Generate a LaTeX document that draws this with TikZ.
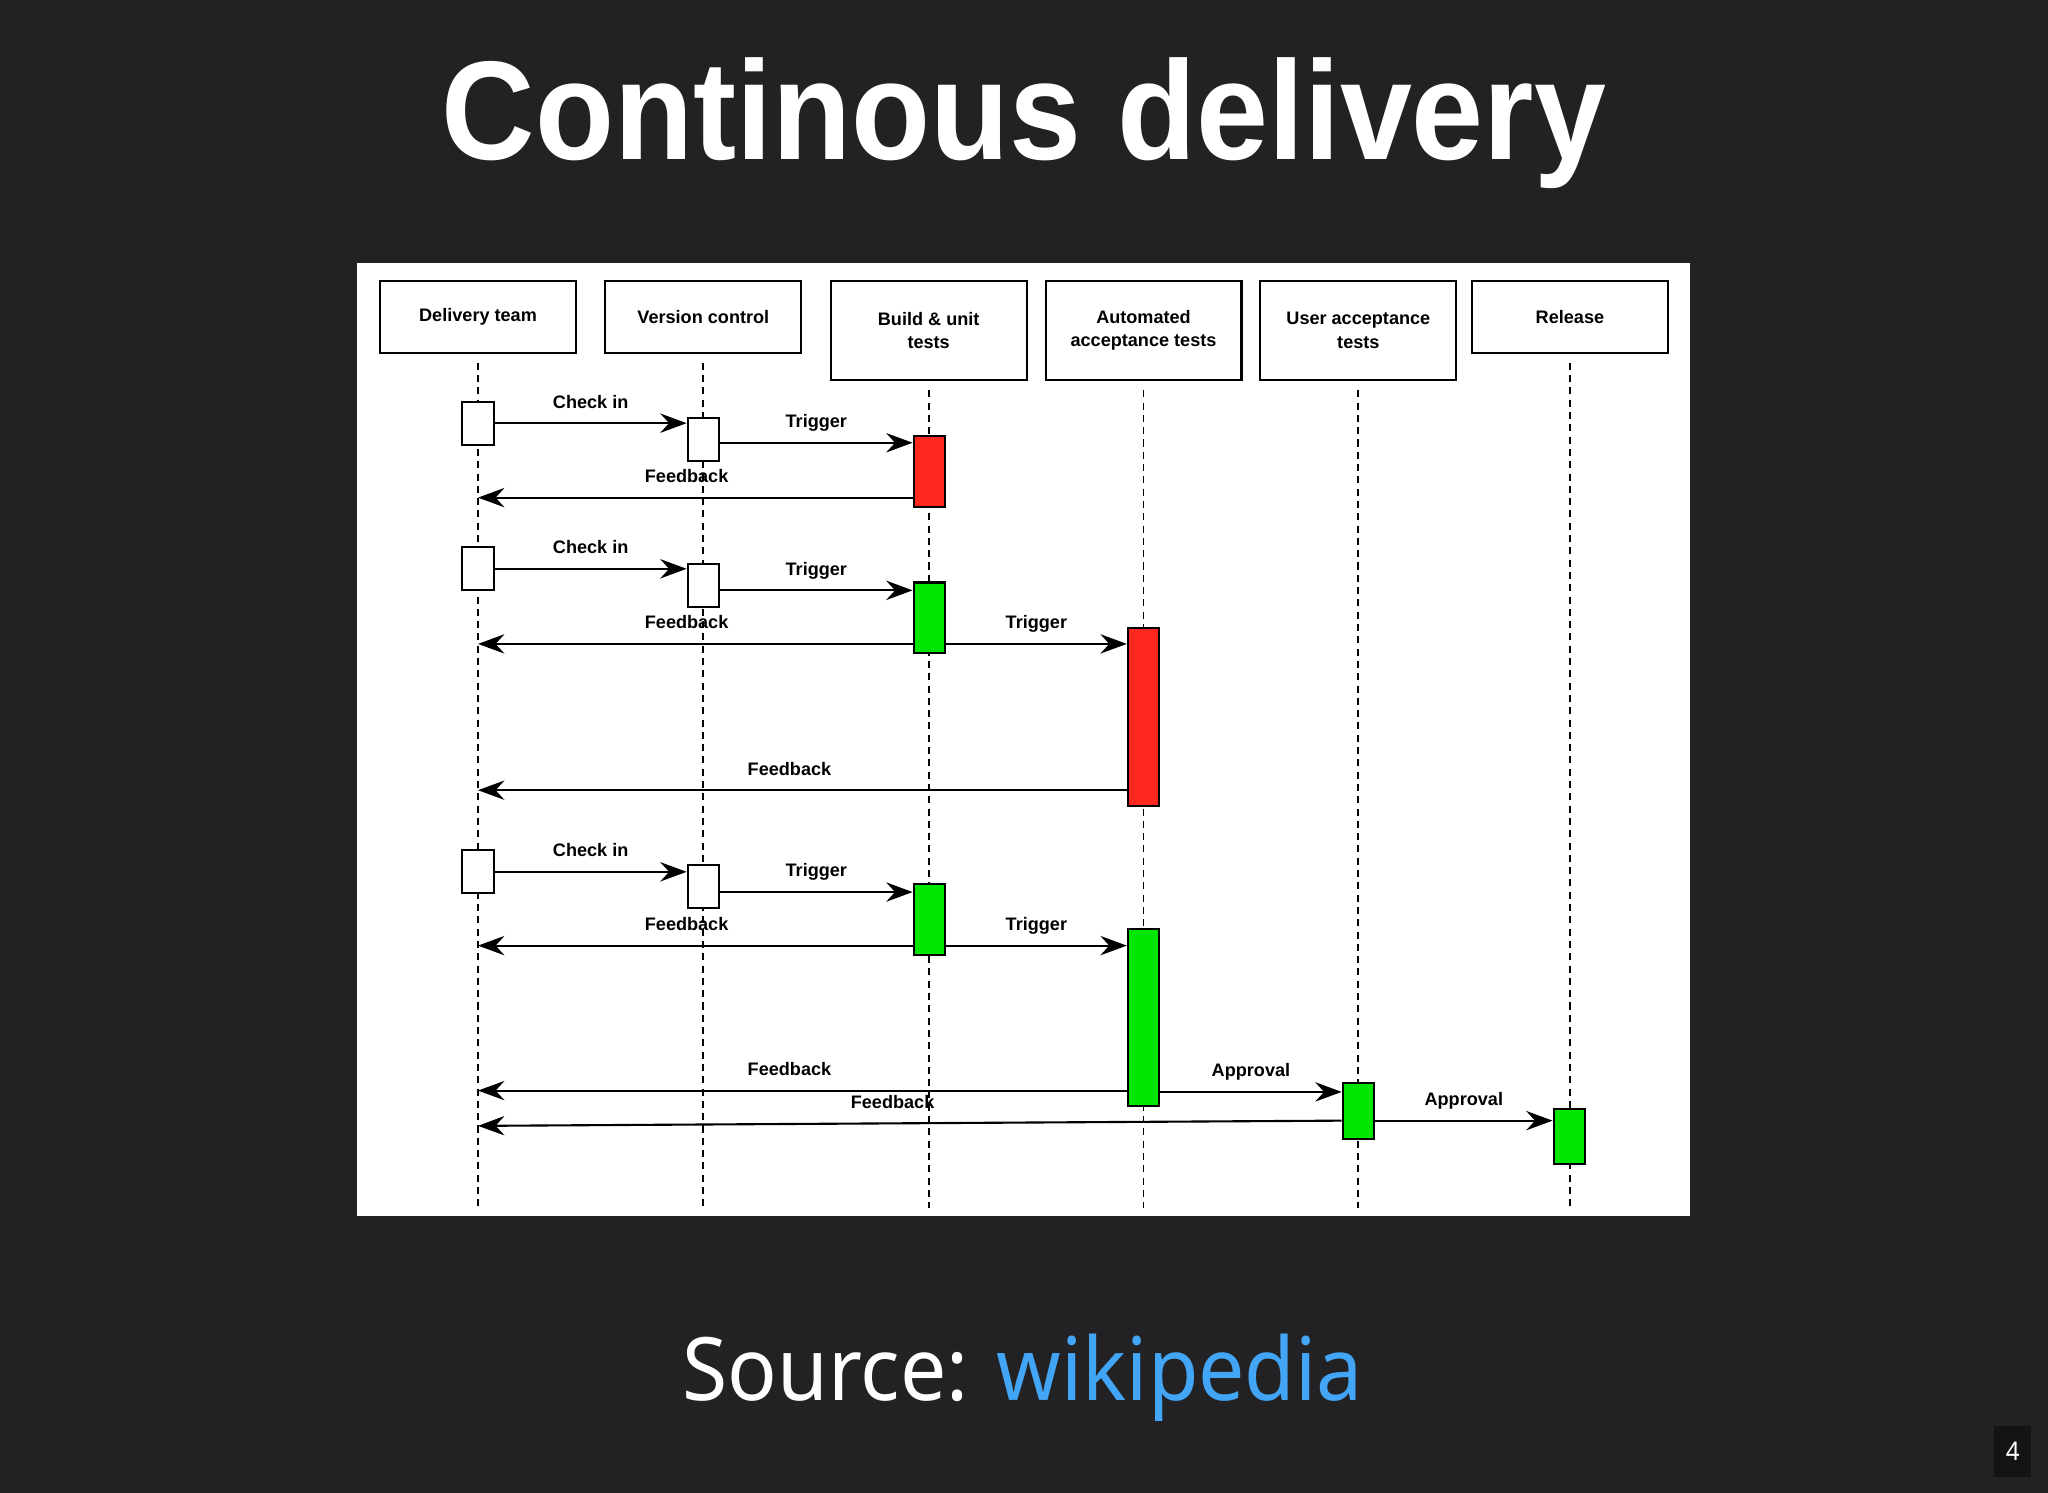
\documentclass[tikz,border=0pt]{standalone}
\usepackage{fontspec}
\setmainfont{Liberation Sans}
\newfontfamily\titlefont[FakeStretch=0.92]{Liberation Sans}
\newfontfamily\srcfont[FakeStretch=0.94]{Noto Sans}
\usetikzlibrary{arrows.meta}
\definecolor{slide}{RGB}{34,34,36}
\definecolor{pagebox}{RGB}{20,20,22}
\definecolor{wikiblue}{RGB}{66,165,245}
\definecolor{failred}{RGB}{255,40,30}
\definecolor{passgreen}{RGB}{0,230,0}
\tikzset{
x=0.013061cm, y=-0.013061cm, % one unit is one pixel of the slide
>={Stealth[length=7.5pt,width=5.5pt,inset=2.5pt]}, % draw.io style heads
head/.style={draw, fill=white, line width=.6pt, minimum width=1.959cm, minimum height=.718cm, align=center, font=\bfseries\fontsize{5.15}{6.7}\selectfont},
tall/.style={head, minimum height=.993cm},
life/.style={line width=.5pt, dash pattern=on 2pt off 1.5pt},
act/.style={draw, fill=white, line width=.6pt, minimum width=.313cm, minimum height=.431cm, inner sep=0pt},
fail/.style={fill=failred},
pass/.style={fill=passgreen},
msg/.style={->, line width=.6pt},
lbl/.style={above, inner sep=3pt, text height=4pt, text depth=1pt, font=\bfseries\fontsize{5.15}{6.7}\selectfont},
}
\begin{document}
\begin{tikzpicture}
\fill[slide] (0,0) rectangle (1568,1143);
\node[anchor=base, text=white, font=\titlefont\bfseries\fontsize{40}{48}\selectfont] (title) at (784,122) {Continous delivery};
\fill[white] (273,201) rectangle (1294,931);
% lifelines
\node[head] (dt) at (366,242.5) {Delivery team};
\node[head] (vc) at (538.5,242.5) {Version control};
\node[tall] (bu) at (711,253) {Build \& unit\\tests};
\node[tall] (aat) at (875.5,253) {Automated\\acceptance tests};
\node[tall] (uat) at (1040,253) {User acceptance\\tests};
\node[head] (rel) at (1202,242.5) {Release};
\coordinate (bot) at (0,925);
\foreach \n in {dt,vc,bu,aat,uat,rel}
  \draw[life] ([yshift=-2.6pt]\n.south) -- (\n.south |- bot);
% first run
\node[act] (dt1) at (366,324) {};
\node[act] (vc1) at (538.5,336.5) {};
\node[act, fail, minimum height=.705cm] (bu1) at (711.5,361) {};
\coordinate (t1) at (0,339);
\coordinate (f1) at (366,381);
\draw[msg] (dt1.east) -- node[lbl]{Check in} (vc1.west |- dt1.east);
\draw[msg] (vc1.east |- t1) -- node[lbl]{Trigger} (bu1.west |- t1);
\draw[msg] (bu1.west |- f1) -- node[lbl, pos=.52]{Feedback} (f1);
% second run
\node[act] (dt2) at (366,435.5) {};
\node[act] (vc2) at (538.5,448.5) {};
\node[act, pass, minimum height=.705cm] (bu2) at (711.5,473) {};
\node[act, fail, minimum height=1.776cm] (aat2) at (875.5,549) {};
\coordinate (t2) at (0,452);
\coordinate (f2) at (366,493);
\coordinate (f3) at (366,605);
\draw[msg] (dt2.east) -- node[lbl]{Check in} (vc2.west |- dt2.east);
\draw[msg] (vc2.east |- t2) -- node[lbl]{Trigger} (bu2.west |- t2);
\draw[msg] (bu2.west |- f2) -- node[lbl, pos=.52]{Feedback} (f2);
\draw[msg] (bu2.east |- f2) -- node[lbl]{Trigger} (aat2.west |- f2);
\draw[msg] (aat2.west |- f3) -- node[lbl, pos=.52]{Feedback} (f3);
% third run
\node[act] (dt3) at (366,667.5) {};
\node[act] (vc3) at (538.5,678.5) {};
\node[act, pass, minimum height=.705cm] (bu3) at (711.5,704) {};
\node[act, pass, minimum height=1.776cm] (aat3) at (875.5,779) {};
\node[act, pass, minimum height=.562cm] (uat3) at (1040,850.5) {};
\node[act, pass, minimum height=.549cm] (rel3) at (1201.5,870) {};
\coordinate (t3) at (0,683);
\coordinate (f4) at (366,724);
\coordinate (f5) at (366,835);
\coordinate (f6) at (366,862);
\coordinate (a1) at (0,836);
\coordinate (a2) at (0,858);
\draw[msg] (dt3.east) -- node[lbl]{Check in} (vc3.west |- dt3.east);
\draw[msg] (vc3.east |- t3) -- node[lbl]{Trigger} (bu3.west |- t3);
\draw[msg] (bu3.west |- f4) -- node[lbl, pos=.52]{Feedback} (f4);
\draw[msg] (bu3.east |- f4) -- node[lbl]{Trigger} (aat3.west |- f4);
\draw[msg] (aat3.west |- f5) -- node[lbl, pos=.52]{Feedback} (f5);
\draw[msg] (aat3.east |- a1) -- node[lbl]{Approval} (uat3.west |- a1);
\draw[msg] (uat3.west |- a2) -- node[lbl, pos=.52]{Feedback} (f6);
\draw[msg] (uat3.east |- a2) -- node[lbl]{Approval} (rel3.west |- a2);
\node[anchor=base, text=white, font=\srcfont\fontsize{24.9}{30}\selectfont] (src) at (783,1072) {Source: \textcolor{wikiblue}{wikipedia}};
\node[fill=pagebox, text=white, minimum width=.366cm, minimum height=.509cm, inner sep=0pt, font=\srcfont\fontsize{7.3}{8}\selectfont] (page) at (1541,1111.5) {4};
\end{tikzpicture}
\end{document}
